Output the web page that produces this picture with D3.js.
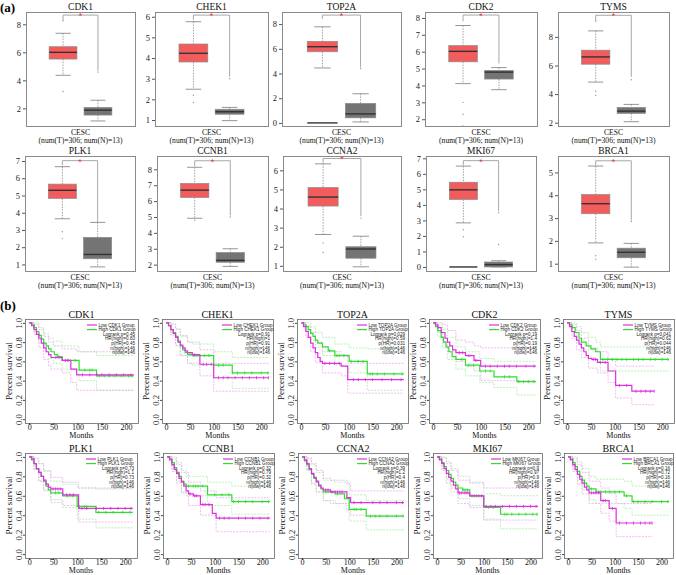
<!DOCTYPE html>
<html><head><meta charset="utf-8">
<script src="https://cdn.jsdelivr.net/npm/d3@7"></script>
<style>body{margin:0;background:#fff}svg{display:block}</style>
</head><body><svg id="c" width="676" height="575"></svg>
<script>
// ---------------- DATA ----------------
const genes = ["CDK1","CHEK1","TOP2A","CDK2","TYMS","PLK1","CCNB1","CCNA2","MKI67","BRCA1"];
const groups = ["Tumor","Normal"];
const cancerLabel = "CESC";
const numT = 306, numN = 13;
// box stats: [whiskerLow, q1, median, q3, whiskerHigh]
const tumorStats = [
 [4.36,5.52,6.00,6.40,7.36],
 [2.49,3.81,4.23,4.68,5.76],
 [4.45,5.76,6.17,6.60,7.78],
 [4.11,5.40,6.02,6.36,7.55],
 [4.84,6.09,6.60,7.07,8.42],
 [3.65,4.83,5.30,5.66,6.67],
 [4.92,6.23,6.69,7.11,8.13],
 [2.64,4.13,4.60,5.10,6.34],
 [2.84,4.35,4.97,5.46,6.50],
 [1.91,3.19,3.63,4.03,5.28]
];
const normalStats = [
 [1.10,1.52,1.87,2.07,2.58],
 [0.97,1.28,1.40,1.52,1.61],
 [0.08,0.41,0.73,1.58,2.36],
 [3.75,4.38,4.79,4.89,5.06],
 [2.07,2.65,2.81,3.07,3.28],
 [0.86,1.33,1.58,2.57,3.44],
 [1.89,2.15,2.27,2.76,3.00],
 [0.95,1.40,1.88,2.00,2.55],
 [0.00,0.00,0.15,0.32,0.40],
 [0.85,1.26,1.50,1.68,1.89]
];
const tumorOutliers = [[3.2,8.25],[1.85,2.2],[8.5],[1.6,2.3,3.0],[3.9,4.2,9.1],[2.5,2.9],[4.8],[1.7,2.2],[1.95,2.4],[1.2,1.35]];
const normalOutliers = [[4.6],[3.0],[4.4],[],[5.0],[],[5.0],[3.5],[3.5,1.45],[2.85]];
const zeroLine = [false,false,true,false,false,false,false,false,true,false];
const boxDomains = [[0.74,8.88],[0.71,6.23],[-0.25,8.98],[1.6,8.35],[1.77,9.74],[0.62,7.29],[1.6,8.84],[0.73,6.75],[-0.26,7.15],[0.68,5.72]];
const boxTicks = [[2,4,6,8],[1,2,3,4,5,6],[0,2,4,6,8],[2,3,4,5,6,7,8],[2,4,6,8],[1,2,3,4,5,6,7],[2,3,4,5,6,7,8],[1,2,3,4,5,6],[0,1,2,3,4,5,6,7],[1,2,3,4,5]];
// significance bracket: [top, left leg end, right leg end]
const brackets = [[8.66,8.3,4.7],[6.08,5.85,3.1],[8.73,8.5,4.5],[8.17,7.8,5.3],[9.51,9.1,5.2],[7.02,6.75,3.44],[8.54,8.2,5.1],[6.62,6.4,3.6],[6.85,6.55,3.6],[5.51,5.3,2.9]];

// Kaplan-Meier step curves [months, survival]
const kmLow = [
 [[0,1],[5,0.97],[10,0.93],[15,0.88],[20,0.84],[25,0.79],[30,0.74],[35,0.7],[40,0.67],[45,0.64],[68,0.61],[86,0.52],[98,0.46],[216,0.46]],
 [[0,1],[5,0.97],[10,0.93],[15,0.89],[20,0.85],[25,0.8],[30,0.77],[35,0.74],[40,0.71],[45,0.69],[55,0.67],[71,0.57],[100,0.43],[216,0.43]],
 [[0,1],[5,0.96],[10,0.91],[15,0.85],[20,0.79],[25,0.74],[30,0.69],[35,0.64],[40,0.6],[45,0.58],[84,0.55],[98,0.41],[216,0.41]],
 [[0,1],[5,0.98],[10,0.95],[17,0.9],[25,0.84],[30,0.8],[35,0.76],[41,0.72],[48,0.69],[68,0.66],[86,0.61],[100,0.55],[216,0.55]],
 [[0,1],[5,0.96],[10,0.91],[15,0.86],[20,0.82],[25,0.78],[30,0.74],[35,0.7],[40,0.66],[45,0.63],[52,0.62],[64,0.59],[86,0.5],[102,0.35],[136,0.29],[183,0.29]],
 [[0,1],[5,0.98],[10,0.93],[15,0.88],[20,0.84],[25,0.8],[30,0.76],[35,0.72],[40,0.69],[45,0.67],[70,0.61],[103,0.47],[216,0.47]],
 [[0,1],[5,0.97],[10,0.92],[15,0.87],[20,0.83],[25,0.78],[30,0.74],[35,0.7],[40,0.65],[45,0.62],[55,0.6],[70,0.51],[95,0.42],[103,0.37],[216,0.37]],
 [[0,1],[5,0.97],[10,0.93],[15,0.88],[20,0.83],[25,0.79],[30,0.75],[35,0.71],[40,0.68],[45,0.66],[60,0.64],[95,0.58],[103,0.53],[216,0.53]],
 [[0,1],[5,0.97],[10,0.93],[15,0.88],[20,0.83],[25,0.79],[30,0.75],[35,0.71],[40,0.67],[45,0.63],[70,0.6],[100,0.49],[216,0.49]],
 [[0,1],[5,0.97],[10,0.92],[15,0.87],[20,0.82],[25,0.77],[30,0.73],[35,0.69],[40,0.66],[45,0.63],[70,0.55],[88,0.47],[103,0.32],[180,0.32]]
];
const kmHigh = [
 [[0,1],[5,0.98],[10,0.95],[15,0.91],[20,0.87],[25,0.83],[30,0.79],[35,0.76],[40,0.73],[45,0.7],[52,0.67],[58,0.65],[68,0.61],[103,0.51],[139,0.45],[216,0.45]],
 [[0,1],[5,0.97],[10,0.93],[15,0.9],[20,0.86],[25,0.81],[30,0.76],[35,0.72],[40,0.69],[45,0.67],[55,0.66],[100,0.56],[139,0.48],[216,0.48]],
 [[0,1],[5,0.98],[10,0.96],[15,0.93],[20,0.89],[25,0.86],[30,0.82],[35,0.79],[45,0.75],[57,0.71],[71,0.66],[101,0.6],[139,0.47],[216,0.47]],
 [[0,1],[5,0.96],[10,0.92],[17,0.85],[22,0.8],[27,0.75],[33,0.7],[40,0.65],[48,0.62],[68,0.56],[98,0.5],[128,0.44],[176,0.39],[216,0.39]],
 [[0,1],[5,0.98],[10,0.95],[17,0.9],[25,0.84],[30,0.8],[40,0.76],[50,0.73],[60,0.7],[70,0.62],[214,0.62]],
 [[0,1],[5,0.97],[10,0.93],[15,0.88],[20,0.84],[25,0.8],[30,0.75],[35,0.7],[40,0.66],[45,0.63],[70,0.6],[100,0.49],[139,0.43],[216,0.43]],
 [[0,1],[5,0.98],[10,0.94],[15,0.89],[20,0.84],[25,0.8],[30,0.75],[35,0.72],[40,0.7],[85,0.61],[136,0.54],[216,0.54]],
 [[0,1],[5,0.96],[10,0.92],[15,0.87],[20,0.82],[25,0.78],[30,0.74],[35,0.7],[40,0.67],[45,0.64],[70,0.62],[90,0.57],[100,0.46],[136,0.39],[216,0.39]],
 [[0,1],[5,0.98],[10,0.94],[15,0.9],[20,0.86],[25,0.82],[30,0.78],[35,0.74],[40,0.71],[45,0.68],[55,0.66],[70,0.6],[100,0.48],[136,0.41],[216,0.41]],
 [[0,1],[5,0.98],[10,0.94],[15,0.9],[20,0.85],[25,0.8],[30,0.76],[35,0.73],[40,0.7],[45,0.67],[60,0.64],[120,0.6],[137,0.54],[216,0.54]]
];
// 95% confidence limits (upper / lower) for each group
const kmLowUpper = [
 [[0,1],[10,0.98],[20,0.93],[30,0.86],[40,0.8],[50,0.76],[68,0.73],[98,0.7],[216,0.7]],
 [[0,1],[10,0.98],[20,0.93],[30,0.87],[45,0.8],[71,0.72],[100,0.58],[216,0.58]],
 [[0,1],[10,0.97],[20,0.9],[30,0.8],[45,0.7],[84,0.67],[98,0.58],[216,0.58]],
 [[0,1],[10,1],[20,0.98],[30,0.92],[48,0.82],[68,0.8],[86,0.76],[100,0.74],[216,0.74]],
 [[0,1],[10,0.98],[20,0.92],[30,0.84],[45,0.74],[64,0.7],[86,0.63],[102,0.55],[183,0.55]],
 [[0,1],[10,0.99],[20,0.93],[30,0.86],[45,0.79],[70,0.74],[103,0.68],[216,0.68]],
 [[0,1],[10,0.98],[20,0.92],[30,0.84],[45,0.74],[70,0.65],[103,0.58],[216,0.58]],
 [[0,1],[10,0.99],[20,0.93],[30,0.86],[45,0.78],[60,0.76],[95,0.72],[103,0.65],[216,0.65]],
 [[0,1],[10,0.99],[20,0.93],[30,0.86],[45,0.76],[70,0.73],[100,0.68],[216,0.68]],
 [[0,1],[10,0.98],[20,0.92],[30,0.84],[45,0.75],[70,0.68],[88,0.62],[103,0.52],[180,0.52]]
];
const kmLowLower = [
 [[0,1],[10,0.88],[20,0.74],[30,0.62],[40,0.55],[45,0.52],[68,0.48],[86,0.38],[98,0.3],[216,0.3]],
 [[0,1],[10,0.88],[20,0.76],[30,0.66],[45,0.58],[71,0.45],[100,0.29],[216,0.29]],
 [[0,1],[10,0.85],[20,0.7],[30,0.59],[45,0.48],[84,0.45],[98,0.27],[216,0.27]],
 [[0,1],[10,0.9],[20,0.8],[30,0.7],[48,0.6],[68,0.55],[86,0.5],[100,0.4],[216,0.4]],
 [[0,1],[10,0.84],[20,0.72],[30,0.64],[45,0.53],[64,0.48],[86,0.38],[102,0.22],[136,0.15],[183,0.15]],
 [[0,1],[10,0.87],[20,0.75],[30,0.66],[45,0.56],[70,0.5],[103,0.33],[216,0.33]],
 [[0,1],[10,0.85],[20,0.73],[30,0.63],[45,0.5],[70,0.4],[103,0.23],[216,0.23]],
 [[0,1],[10,0.87],[20,0.73],[30,0.64],[45,0.55],[60,0.52],[95,0.45],[103,0.4],[216,0.4]],
 [[0,1],[10,0.86],[20,0.73],[30,0.64],[45,0.52],[70,0.48],[100,0.35],[216,0.35]],
 [[0,1],[10,0.85],[20,0.72],[30,0.62],[45,0.52],[70,0.42],[88,0.34],[103,0.18],[180,0.18]]
];
const kmHighUpper = [
 [[0,1],[10,1],[20,0.95],[30,0.89],[40,0.84],[50,0.81],[68,0.76],[103,0.7],[139,0.66],[216,0.66]],
 [[0,1],[10,0.99],[20,0.94],[30,0.86],[45,0.8],[55,0.78],[100,0.7],[139,0.64],[216,0.64]],
 [[0,1],[10,1],[20,0.96],[30,0.9],[45,0.85],[71,0.78],[101,0.74],[139,0.73],[216,0.73]],
 [[0,1],[10,0.98],[20,0.93],[30,0.85],[48,0.75],[68,0.7],[98,0.63],[128,0.6],[216,0.6]],
 [[0,1],[10,1],[20,0.96],[30,0.9],[45,0.85],[60,0.8],[70,0.75],[214,0.75]],
 [[0,1],[10,0.98],[20,0.93],[30,0.85],[45,0.75],[70,0.72],[100,0.68],[139,0.67],[216,0.67]],
 [[0,1],[10,1],[20,0.94],[30,0.86],[40,0.8],[85,0.74],[136,0.7],[216,0.7]],
 [[0,1],[10,0.98],[20,0.92],[30,0.84],[45,0.76],[70,0.74],[100,0.61],[136,0.55],[216,0.55]],
 [[0,1],[10,1],[20,0.95],[30,0.88],[45,0.8],[70,0.74],[100,0.62],[136,0.6],[216,0.6]],
 [[0,1],[10,1],[20,0.95],[30,0.88],[45,0.8],[60,0.77],[120,0.75],[137,0.7],[216,0.7]]
];
const kmHighLower = [
 [[0,1],[10,0.9],[20,0.79],[30,0.7],[40,0.63],[50,0.58],[68,0.52],[103,0.4],[139,0.3],[216,0.3]],
 [[0,1],[10,0.87],[20,0.77],[30,0.66],[45,0.58],[55,0.56],[100,0.43],[139,0.32],[216,0.32]],
 [[0,1],[10,0.92],[20,0.82],[30,0.74],[45,0.66],[71,0.56],[101,0.48],[139,0.3],[216,0.3]],
 [[0,1],[10,0.86],[20,0.74],[30,0.62],[48,0.52],[68,0.45],[98,0.38],[128,0.33],[176,0.25],[216,0.25]],
 [[0,1],[10,0.9],[20,0.8],[30,0.72],[45,0.64],[60,0.6],[70,0.5],[214,0.5]],
 [[0,1],[10,0.87],[20,0.75],[30,0.65],[45,0.53],[70,0.48],[100,0.36],[139,0.27],[216,0.27]],
 [[0,1],[10,0.88],[20,0.75],[30,0.64],[40,0.6],[85,0.5],[136,0.41],[216,0.41]],
 [[0,1],[10,0.86],[20,0.72],[30,0.64],[45,0.55],[70,0.52],[100,0.34],[136,0.25],[216,0.25]],
 [[0,1],[10,0.88],[20,0.77],[30,0.68],[45,0.57],[70,0.5],[100,0.36],[136,0.26],[216,0.26]],
 [[0,1],[10,0.88],[20,0.76],[30,0.66],[45,0.56],[60,0.52],[120,0.47],[137,0.4],[216,0.4]]
];
// censoring times (months)
const censorLow = [
 [55,62,75,80,110,125,140,150,165,180,195,210],
 [60,78,85,95,110,120,130,145,160,175,190,205,215],
 [50,60,70,80,110,120,135,150,170,190,210],
 [55,62,75,90,110,120,135,150,160,175,195,212],
 [55,60,70,80,110,125,145,155,165,175,183],
 [50,55,60,65,78,85,92,110,120,140,155,170,185,200,212],
 [48,58,62,75,80,88,110,120,130,150,165,180,195,212],
 [50,55,62,70,75,80,85,110,125,150,165,180,200,213],
 [48,52,58,62,66,75,85,95,105,115,125,140,155,170,185,200,212],
 [50,55,60,66,75,80,95,110,125,140,155,165,175,180]
];
const censorHigh = [
 [60,80,95,115,125,130,145,155,165,175,190,205,212],
 [50,58,65,80,90,110,120,140,150,165,180,200,214],
 [60,75,80,90,105,120,130,145,150,160,175,195,212],
 [60,75,85,110,120,150,160,180,190,200,212],
 [75,85,95,105,115,125,140,150,160,175,185,200,212],
 [55,62,80,90,105,115,120,145,160,175,195,210],
 [45,55,60,65,75,100,115,130,140,150,165,180,200,213],
 [50,55,65,75,110,115,125,145,155,165,180,200,214],
 [55,60,65,80,90,110,120,145,150,160,175,190,205,214],
 [50,60,65,70,80,90,100,110,125,140,150,165,180,200,214]
];
const logrankP = ["0.45","0.91","0.029","0.19","0.041","0.73","0.32","0.39","0.9","0.16"];
const hrHigh = ["0.83","1","0.59","1.4","0.62","1.1","0.79","1.2","0.97","0.72"];
const pHR = ["0.45","0.91","0.031","0.19","0.044","0.73","0.32","0.4","0.9","0.16"];
const nHigh = [146,146,146,146,146,146,146,146,146,146];
const nLow = [146,146,146,146,146,146,146,146,146,146];
const monthTicks = [0,50,100,150,200];
const survTicks = [0,0.2,0.4,0.6,0.8,1.0];
const tMax = 216;

// ---------------- DRAW ----------------
const svg = d3.select("#c");
const serif = "'Liberation Serif','Times New Roman',serif";
const sans = "'Liberation Sans',Arial,sans-serif";
const tumorFill = "#f35c5c", normalFill = "#747474";
const lowCol = "#e02ee0", highCol = "#2be02b";
const lowCI = "#f0a8f0", highCI = "#a8eda8";

svg.append("text").attr("x",0).attr("y",12).text("(a)")
  .attr("font-family",serif).attr("font-weight","bold").attr("font-size",13);
svg.append("text").attr("x",0).attr("y",310).text("(b)")
  .attr("font-family",serif).attr("font-weight","bold").attr("font-size",13);

// ---- (a) boxplots ----
const boxRowsY = [[12,126],[156,271]];
const boxCols = [[26,135],[155,268],[282,401],[425,537],[558,669],[25,135],[157,268],[283,401],[426,536],[558,669]];

genes.forEach((g,i)=>{
  const [x0,x1] = boxCols[i];
  const [y0,y1] = boxRowsY[Math.floor(i/5)];
  const y = d3.scaleLinear().domain(boxDomains[i]).range([y1,y0]);
  const x = d3.scalePoint().domain(groups).range([x0,x1]).padding(1.06);
  const bw = 0.255*(x1-x0);
  const p = svg.append("g");

  p.append("rect").attr("x",x0+0.5).attr("y",y0+0.5).attr("width",x1-x0).attr("height",y1-y0)
    .attr("fill","none").attr("stroke","#8a8a8a").attr("stroke-width",1);

  const ax = p.append("g").attr("transform",`translate(${x0},0)`)
    .call(d3.axisLeft(y).tickValues(boxTicks[i]).tickSize(3).tickPadding(2).tickFormat(d3.format("d")));
  ax.attr("font-family",serif).attr("font-size",8.5);
  ax.select(".domain").remove();
  ax.selectAll(".tick line").attr("stroke","#555");
  ax.selectAll(".tick text").attr("fill","#222");

  p.append("text").attr("x",(x0+x1)/2).attr("y",y0-2.5).attr("text-anchor","middle")
    .attr("font-family",serif).attr("font-size",9.5).attr("fill","#111").text(g);

  const stats = [tumorStats[i], normalStats[i]];
  const outs = [tumorOutliers[i], normalOutliers[i]];
  const fills = [tumorFill, normalFill];
  groups.forEach((grp,k)=>{
    const cx = x(grp); const s = stats[k];
    p.append("line").attr("x1",cx).attr("x2",cx).attr("y1",y(s[4])).attr("y2",y(s[3]))
      .attr("stroke","#8a8a8a").attr("stroke-dasharray","1.5,1.2").attr("stroke-width",0.8);
    p.append("line").attr("x1",cx).attr("x2",cx).attr("y1",y(s[1])).attr("y2",y(s[0]))
      .attr("stroke","#8a8a8a").attr("stroke-dasharray","1.5,1.2").attr("stroke-width",0.8);
    [s[0],s[4]].forEach(v=>{
      p.append("line").attr("x1",cx-bw*0.27).attr("x2",cx+bw*0.27).attr("y1",y(v)).attr("y2",y(v))
        .attr("stroke","#8a8a8a").attr("stroke-width",0.9);
    });
    p.append("rect").attr("x",cx-bw/2).attr("y",y(s[3])).attr("width",bw).attr("height",Math.max(0.5,y(s[1])-y(s[3])))
      .attr("fill",fills[k]).attr("stroke","#8a8a8a").attr("stroke-width",0.7);
    p.append("line").attr("x1",cx-bw/2).attr("x2",cx+bw/2).attr("y1",y(s[2])).attr("y2",y(s[2]))
      .attr("stroke","#333").attr("stroke-width",1.4);
    outs[k].forEach(v=>{
      p.append("circle").attr("cx",cx).attr("cy",y(v)).attr("r",0.7).attr("fill","#999");
    });
  });
  if (zeroLine[i]) {
    const cx = x(groups[0]);
    p.append("line").attr("x1",cx-bw/2).attr("x2",cx+bw/2).attr("y1",y(0)).attr("y2",y(0))
      .attr("stroke","#333").attr("stroke-width",1.4);
  }
  const b = brackets[i];
  const xt = x(groups[0]), xn = x(groups[1]);
  p.append("path").attr("d",`M${xt},${y(b[1])}V${y(b[0])}H${xn}V${y(b[2])}`)
    .attr("fill","none").attr("stroke","#a8a8a8").attr("stroke-width",1);
  p.append("text").attr("x",(xt+xn)/2).attr("y",y(b[0])+4).attr("text-anchor","middle")
    .attr("font-family",sans).attr("font-size",9).attr("fill","#ee3333").text("*");

  p.append("text").attr("x",(x0+x1)/2).attr("y",y1+8.7).attr("text-anchor","middle")
    .attr("font-family",serif).attr("font-size",7.6).attr("fill","#111").text(cancerLabel);
  p.append("text").attr("x",(x0+x1)/2).attr("y",y1+17).attr("text-anchor","middle")
    .attr("font-family",serif).attr("font-size",7.6).attr("fill","#111")
    .text(`(num(T)=${numT}; num(N)=${numN})`);
});

// ---- (b) KM plots ----
const kmRowsY = [[319,423],[453,558]];
const kmCols = [[25,138],[162,273],[297,408],[429,540],[563,674],[25,137],[163,274],[298,408],[433,542],[564,673]];
function stepValue(curve, t){
  let v = curve[0][1];
  for (const d of curve) { if (d[0] <= t) v = d[1]; }
  return v;
}
genes.forEach((g,i)=>{
  const [x0,x1] = kmCols[i];
  const [y0,y1] = kmRowsY[Math.floor(i/5)];
  const x = d3.scaleLinear().domain([-0.04*tMax, 1.04*tMax]).range([x0,x1]);
  const y = d3.scaleLinear().domain([-0.04,1.04]).range([y1,y0]);
  const p = svg.append("g");
  const line = d3.line().x(d=>x(d[0])).y(d=>y(d[1])).curve(d3.curveStepAfter);

  [[kmHighUpper[i],highCI],[kmHighLower[i],highCI],[kmLowUpper[i],lowCI],[kmLowLower[i],lowCI]].forEach(([c,col])=>{
    p.append("path").attr("d",line(c)).attr("fill","none").attr("stroke",col)
      .attr("stroke-width",0.8).attr("stroke-dasharray","2,1.2");
  });
  [[kmHigh[i],highCol,censorHigh[i]],[kmLow[i],lowCol,censorLow[i]]].forEach(([c,col,cens])=>{
    p.append("path").attr("d",line(c)).attr("fill","none").attr("stroke",col).attr("stroke-width",1.2);
    cens.forEach(t=>{
      const yy = y(stepValue(c,t));
      p.append("line").attr("x1",x(t)).attr("x2",x(t)).attr("y1",yy-1.6).attr("y2",yy+1.6)
        .attr("stroke",col).attr("stroke-width",0.8);
    });
  });

  p.append("rect").attr("x",x0+0.5).attr("y",y0+0.5).attr("width",x1-x0).attr("height",y1-y0)
    .attr("fill","none").attr("stroke","#666").attr("stroke-width",0.8);

  const xa = p.append("g").attr("transform",`translate(0,${y1})`)
    .call(d3.axisBottom(x).tickValues(monthTicks).tickSize(2).tickPadding(0).tickFormat(d3.format("d")));
  xa.attr("font-family",serif).attr("font-size",8);
  xa.select(".domain").remove();
  xa.selectAll(".tick line").attr("stroke","#444");
  xa.selectAll(".tick text").attr("fill","#111").attr("dy",0).attr("y",7);

  const ya = p.append("g").attr("transform",`translate(${x0},0)`)
    .call(d3.axisLeft(y).tickValues(survTicks).tickSize(2).tickFormat(d3.format(".1f")));
  ya.attr("font-family",serif).attr("font-size",8.5);
  ya.select(".domain").remove();
  ya.selectAll(".tick line").attr("stroke","#444");
  ya.selectAll(".tick text").attr("transform","rotate(-90)").attr("x",0).attr("y",-3.5).attr("dy",0)
    .attr("text-anchor","middle").attr("fill","#111");

  p.append("text").attr("x",(x0+x1)/2).attr("y",y0-1.5).attr("text-anchor","middle")
    .attr("font-family",serif).attr("font-size",10).attr("fill","#111").text(g);
  p.append("text").attr("transform",`translate(${x0-13},${(y0+y1)/2}) rotate(-90)`).attr("text-anchor","middle")
    .attr("font-family",serif).attr("font-size",9).attr("fill","#111").text("Percent survival");
  p.append("text").attr("x",(x0+x1)/2).attr("y",y1+15.3).attr("text-anchor","middle")
    .attr("font-family",serif).attr("font-size",8).attr("fill","#111").text("Months");

  const lx0 = x1-51, lx1 = x1-41, rx = x1-3;
  const rows = [6,10.6,15.2,19.8,24.4,29,33.6].map(d=>y0+d);
  [[lowCol,`Low ${g} Group`],[highCol,`High ${g} Group`]].forEach(([col,txt],k)=>{
    p.append("line").attr("x1",lx0).attr("x2",lx1).attr("y1",rows[k]).attr("y2",rows[k])
      .attr("stroke",col).attr("stroke-width",1.2);
    p.append("text").attr("x",lx1+1.5).attr("y",rows[k]+1.6).attr("font-family",sans)
      .attr("font-size",4.6).attr("fill","#222").text(txt);
  });
  [`Logrank p=${logrankP[i]}`,`HR(high)=${hrHigh[i]}`,`p(HR)=${pHR[i]}`,`n(high)=${nHigh[i]}`,`n(low)=${nLow[i]}`]
    .forEach((txt,k)=>{
      p.append("text").attr("x",rx).attr("y",rows[k+2]+1.6).attr("text-anchor","end")
        .attr("font-family",sans).attr("font-size",4.6).attr("fill","#222").text(txt);
    });
});
</script>
</body></html>
